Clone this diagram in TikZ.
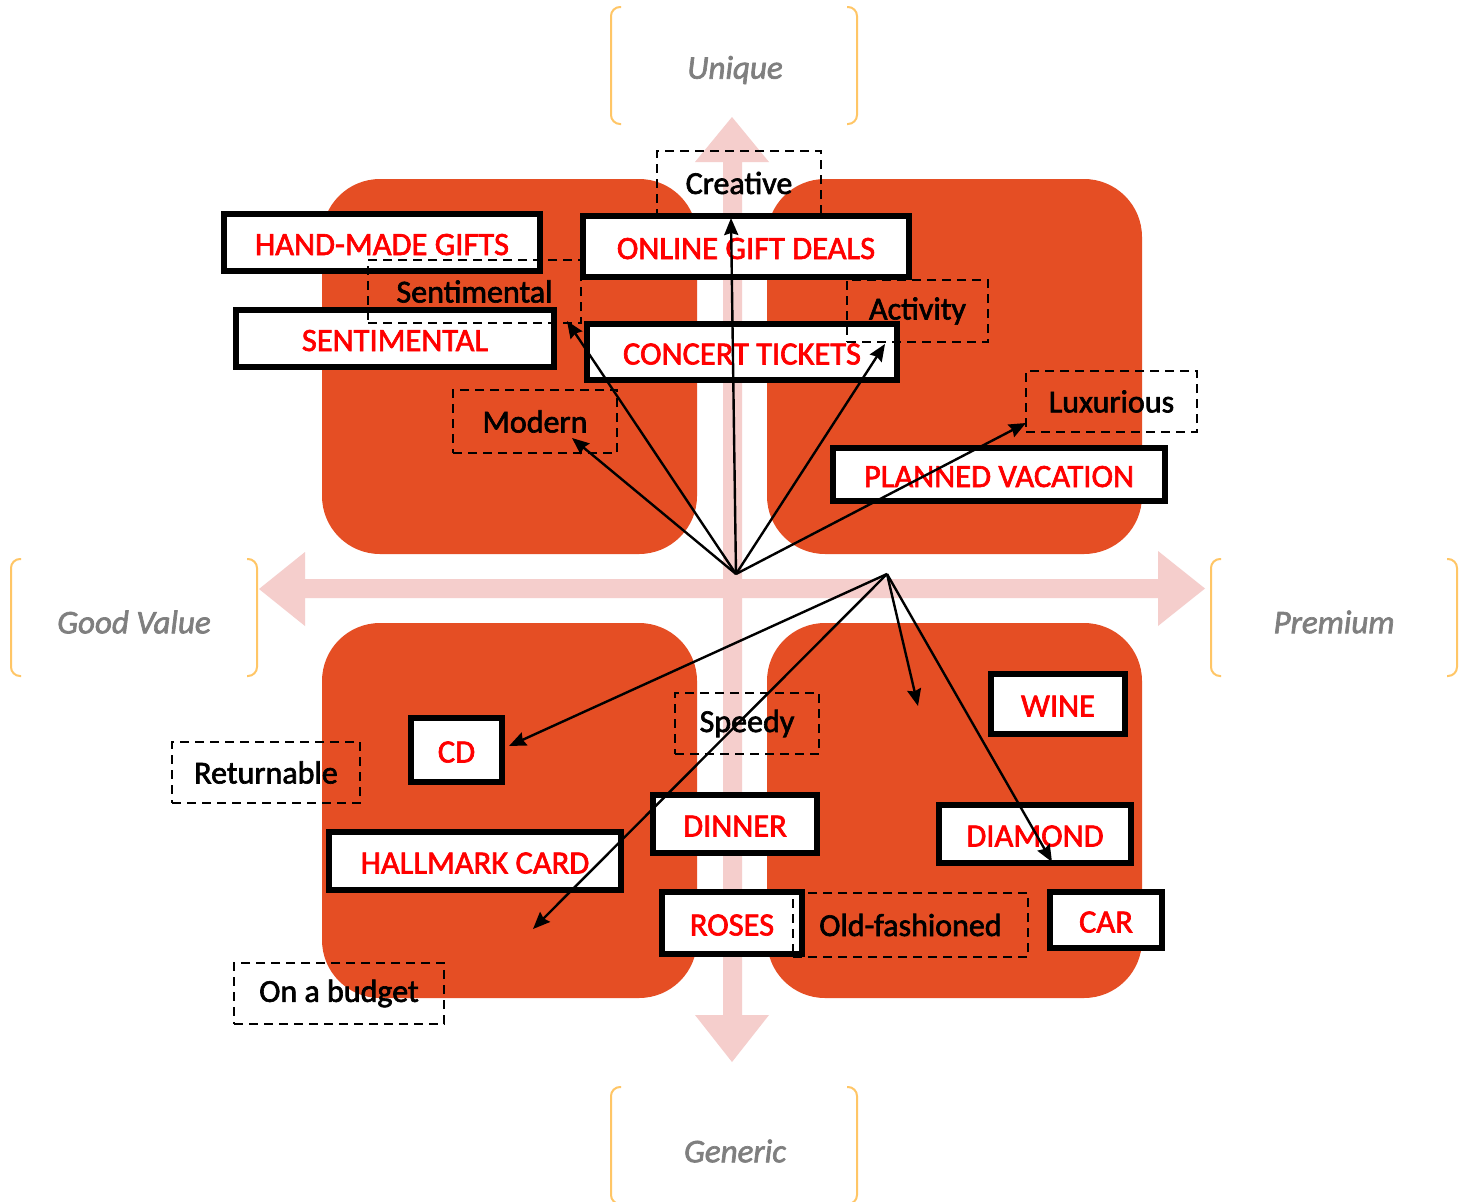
\documentclass[tikz,border=0pt]{standalone}
\usepackage{fontspec}
\setmainfont{Carlito}[FakeBold=2]
\usetikzlibrary{arrows.meta}
\definecolor{quad}{RGB}{229,78,36}
\definecolor{pinkax}{RGB}{245,206,204}
\definecolor{bracket}{RGB}{255,198,102}
\definecolor{axtext}{RGB}{127,127,127}
\definecolor{redtxt}{RGB}{255,0,0}
\begin{document}
\begin{tikzpicture}[x=1pt,y=-1pt,
 solidbox/.style={draw=black, line width=6pt, fill=white, text=redtxt, inner sep=0pt, text height=25pt, text depth=0pt, font=\fontsize{32.5}{38}\selectfont},
 dashbox/.style={draw=black, line width=2.8pt, dash pattern=on 9pt off 6pt, text=black, inner sep=0pt, font=\fontsize{32}{38}\selectfont},
 axlabel/.style={text=axtext, font=\fontsize{33}{39}\selectfont\itshape},
 link/.style={draw=black, line width=2.4pt, -{Stealth[length=17pt,width=14pt,inset=2pt]}},
 quadrant/.style={fill=quad, rounded corners=58pt},
 brk/.style={draw=bracket, line width=2pt, rounded corners=9pt}]
\clip (0,0) rectangle (1468,1202);
\fill[white] (0,0) rectangle (1468,1202);
% axes
\fill[pinkax] (723,162) -- (695,162) -- (732,117) -- (769,162) -- (742,162) -- (742,1015) -- (769,1015) -- (732,1062) -- (695,1015) -- (723,1015) -- cycle;
\fill[pinkax] (305,579) -- (305,552) -- (259,589) -- (305,626) -- (305,598) -- (1158,598) -- (1158,626) -- (1205,588.5) -- (1158,551) -- (1158,579) -- cycle;
% quadrants
\fill[quadrant] (322,179) rectangle (697,554);
\fill[quadrant] (767,179) rectangle (1142,554);
\fill[quadrant] (322,623) rectangle (697,998);
\fill[quadrant] (767,623) rectangle (1142,998);
% axis labels
\draw[brk] (621,7) -- (611,7) -- (611,124) -- (621,124);
\draw[brk] (847,7) -- (857,7) -- (857,124) -- (847,124);
\node[axlabel] (unique) at (735,70) {Unique};
\draw[brk] (21,559) -- (11,559) -- (11,676) -- (21,676);
\draw[brk] (247,559) -- (257,559) -- (257,676) -- (247,676);
\node[axlabel] (goodvalue) at (134,622) {Good Value};
\draw[brk] (1221,559) -- (1211,559) -- (1211,676) -- (1221,676);
\draw[brk] (1447,559) -- (1457,559) -- (1457,676) -- (1447,676);
\node[axlabel] (premium) at (1334,622) {Premium};
\draw[brk] (621,1087) -- (611,1087) -- (611,1204) -- (621,1204);
\draw[brk] (847,1087) -- (857,1087) -- (857,1204) -- (847,1204);
\node[axlabel] (generic) at (735,1151) {Generic};
% solid boxes
\node[solidbox, minimum width=316pt, minimum height=57pt] (handmade) at (382,242.5) {HAND-MADE GIFTS};
\node[solidbox, minimum width=318pt, minimum height=57pt] (sentimentalbox) at (395,338.5) {SENTIMENTAL};
\node[solidbox, minimum width=326pt, minimum height=61pt] (online) at (746,246.5) {ONLINE GIFT DEALS\hspace{16pt}};
\node[solidbox, minimum width=310pt, minimum height=56pt] (concert) at (742,352) {CONCERT TICKETS};
\node[solidbox, minimum width=332pt, minimum height=53pt] (vacation) at (999,474.5) {PLANNED VACATION};
\node[solidbox, minimum width=134pt, minimum height=60pt] (wine) at (1058,704) {WINE};
\node[solidbox, minimum width=192pt, minimum height=58pt] (diamond) at (1035,834) {DIAMOND};
\node[solidbox, minimum width=164pt, minimum height=58pt] (dinner) at (735,824) {DINNER\hspace{14pt}};
\node[solidbox, minimum width=140pt, minimum height=62pt] (roses) at (732,923) {ROSES};
\node[solidbox, minimum width=112pt, minimum height=56pt] (car) at (1106,920) {CAR};
\node[solidbox, minimum width=91pt, minimum height=64pt] (cd) at (456.5,750) {CD};
\node[solidbox, minimum width=292pt, minimum height=58pt] (hallmark) at (475,861) {HALLMARK CARD};
% dashed boxes
\node[dashbox, minimum width=164pt, minimum height=64pt] (creative) at (739,183) {Creative};
\node[dashbox, minimum width=213pt, minimum height=63pt] (sentimental) at (474.5,291.5) {Sentimental};
\node[dashbox, minimum width=141pt, minimum height=62pt] (activity) at (917.5,311) {Activity};
\node[dashbox, minimum width=171pt, minimum height=61pt] (luxurious) at (1111.5,401.5) {Luxurious};
\node[dashbox, minimum width=164pt, minimum height=63pt] (modern) at (535,421.5) {Modern};
\node[dashbox, minimum width=144pt, minimum height=61pt] (speedy) at (747,723.5) {Speedy\hspace{7pt}};
\node[dashbox, minimum width=188pt, minimum height=61pt] (returnable) at (266,772.5) {Returnable};
\node[dashbox, minimum width=235pt, minimum height=64pt] (oldfashioned) at (910.5,925) {Old-fashioned};
\node[dashbox, minimum width=210pt, minimum height=61pt] (budget) at (339,993.5) {On a budget};
% connectors
\coordinate (A) at (736,574);
\coordinate (B) at (887,574);
\coordinate (tcreative) at (731,218);
\coordinate (tsentimental) at (567,321);
\coordinate (tmodern) at (572,438);
\coordinate (tactivity) at (885,344);
\coordinate (tluxurious) at (1026,423);
\coordinate (tcd) at (509,746);
\coordinate (tbudget) at (533,929);
\coordinate (twine) at (918,706);
\coordinate (tdiamond) at (1052,862);
\draw[link] (A) -- (tcreative);
\draw[link] (A) -- (tsentimental);
\draw[link] (A) -- (tmodern);
\draw[link] (A) -- (tactivity);
\draw[link] (A) -- (tluxurious);
\draw[link] (B) -- (tcd);
\draw[link] (B) -- (tbudget);
\draw[link] (B) -- (twine);
\draw[link] (B) -- (tdiamond);
\end{tikzpicture}
\end{document}
